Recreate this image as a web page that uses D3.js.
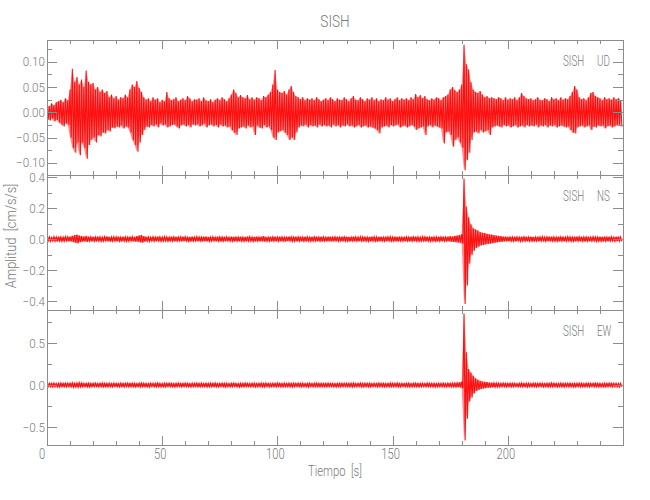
<!DOCTYPE html>
<html>
<head>
<meta charset="utf-8">
<script src="https://cdn.jsdelivr.net/npm/d3@7"></script>
<style>
  html, body { margin: 0; padding: 0; background: #fff; }
  svg text { font-family: "Roboto", "DejaVu Sans", sans-serif; font-weight: 300; fill: #7a7a7a; white-space: pre; }
</style>
</head>
<body>
<svg id="chart" width="650" height="500"></svg>
<script>
// ---------------- DATA ----------------
// Time axis: one envelope sample per second, t = 0..249 s
const title = "SISH";
const station = "SISH";
const components = ["UD", "NS", "EW"];
const xLabel = "Tiempo  [s]";
const yLabel = "Amplitud  [cm/s/s]";
const xTicks = [0, 50, 100, 150, 200];
const udTicks = [-0.10, -0.05, 0.00, 0.05, 0.10];
const nsTicks = [-0.4, -0.2, 0.0, 0.2, 0.4];
const ewTicks = [-0.5, 0.0, 0.5];

// Envelope of each trace, per second: upper peak and lower peak (units: 0.001 cm/s/s)
const udHi = [
 15,12,18,14,20,22,25,20,28,24,
 45,86,60,70,55,65,50,83,60,55,
 58,45,50,40,45,38,42,30,35,28,
 32,25,30,28,35,30,45,55,50,62,
 48,40,30,25,28,22,30,25,28,20,
 25,22,40,28,24,26,30,22,25,28,
 24,32,28,22,26,25,28,22,30,24,
 22,26,20,25,28,24,30,26,22,28,
 35,45,38,30,34,30,28,34,26,30,
 25,30,28,24,32,30,35,40,55,84,
 45,40,38,42,35,45,52,40,32,30,
 26,30,24,28,25,28,24,30,26,22,
 25,28,24,30,26,22,28,25,24,30,
 26,22,28,32,25,24,30,26,22,28,
 25,30,24,28,22,26,24,30,25,28,
 22,26,30,24,28,25,28,24,30,26,
 36,30,34,28,32,26,24,28,25,30,
 28,24,30,32,35,45,50,44,40,45,
 55,134,95,85,60,45,40,38,42,35,
 30,32,28,30,28,26,30,28,24,30,
 25,28,26,30,24,30,38,32,28,26,
 28,24,26,30,25,24,28,26,22,30,
 26,28,24,30,25,28,26,32,40,52,
 45,30,26,28,24,30,38,40,32,30,
 28,24,30,26,28,25,30,26,28,24];
const udLo = [
 -14,-16,-12,-18,-15,-20,-24,-28,-22,-25,
 -50,-70,-80,-60,-85,-60,-70,-92,-65,-55,
 -50,-60,-45,-48,-40,-42,-35,-38,-30,-32,
 -28,-30,-26,-32,-28,-30,-40,-55,-65,-78,
 -60,-45,-35,-28,-30,-25,-28,-24,-30,-22,
 -26,-24,-30,-28,-25,-24,-28,-32,-26,-24,
 -28,-25,-30,-24,-26,-24,-28,-26,-22,-30,
 -26,-24,-28,-25,-30,-24,-28,-26,-30,-28,
 -35,-40,-45,-32,-30,-28,-32,-26,-30,-28,
 -45,-26,-30,-32,-25,-30,-28,-35,-50,-55,
 -40,-38,-35,-40,-45,-55,-50,-55,-40,-30,
 -26,-28,-24,-30,-25,-28,-26,-30,-24,-28,
 -25,-28,-26,-30,-24,-28,-25,-30,-26,-28,
 -24,-28,-26,-30,-28,-25,-30,-28,-26,-30,
 -28,-30,-32,-35,-42,-30,-28,-26,-30,-25,
 -28,-26,-24,-30,-28,-26,-30,-28,-25,-28,
 -35,-32,-30,-28,-45,-28,-25,-30,-26,-28,
 -30,-32,-62,-40,-38,-45,-68,-55,-50,-60,
 -70,-115,-95,-80,-55,-40,-38,-42,-35,-40,
 -38,-35,-45,-30,-28,-26,-28,-30,-25,-28,
 -26,-30,-28,-25,-30,-28,-26,-30,-25,-28,
 -26,-28,-24,-30,-26,-28,-25,-30,-26,-28,
 -25,-30,-28,-26,-28,-30,-28,-35,-40,-42,
 -30,-28,-26,-30,-28,-26,-35,-28,-30,-26,
 -28,-26,-32,-28,-26,-30,-28,-26,-24,-28];

const nsHi = [
 12,14,10,15,13,16,14,12,15,14,
 16,20,25,28,22,18,16,20,15,14,
 15,13,16,14,12,15,17,14,13,15,
 14,16,12,15,14,13,16,15,14,18,
 22,26,18,15,14,12,15,13,16,14,
 13,15,14,12,16,14,15,13,14,16,
 15,12,14,16,13,15,14,12,15,16,
 14,13,15,12,16,14,13,15,14,12,
 15,14,16,13,15,12,14,16,15,13,
 14,16,13,15,18,14,12,15,14,16,
 13,15,14,12,15,16,14,13,15,14,
 16,13,15,14,12,15,14,16,13,15,
 14,12,16,15,13,14,15,12,16,14,
 15,14,12,16,14,13,15,14,16,12,
 14,16,15,13,14,15,12,16,14,15,
 13,15,14,16,12,15,14,13,15,14,
 16,14,13,15,14,16,12,15,14,13,
 15,14,16,13,15,18,16,20,22,25,
 30,390,210,140,95,70,62,55,45,40,
 38,34,30,28,26,22,20,18,16,15,
 14,16,13,15,14,12,15,14,16,13,
 15,14,12,16,14,15,13,14,16,15,
 14,13,15,14,16,12,15,14,13,15,
 16,14,15,13,14,16,12,15,14,13,
 15,14,16,13,15,14,12,15,16,14];
const nsLo = [
 -13,-15,-12,-14,-16,-13,-15,-14,-12,-15,
 -15,-18,-24,-28,-20,-17,-15,-18,-14,-15,
 -14,-16,-13,-15,-14,-12,-15,-16,-14,-13,
 -15,-14,-16,-13,-15,-14,-12,-15,-16,-17,
 -20,-24,-17,-14,-15,-13,-14,-15,-12,-15,
 -14,-12,-15,-16,-13,-15,-14,-12,-15,-14,
 -13,-15,-16,-14,-12,-15,-13,-16,-14,-15,
 -15,-14,-12,-15,-13,-16,-14,-15,-12,-14,
 -14,-16,-13,-15,-14,-15,-16,-13,-14,-15,
 -16,-13,-15,-14,-17,-15,-14,-16,-13,-15,
 -14,-15,-13,-16,-14,-12,-15,-14,-16,-13,
 -15,-14,-16,-13,-15,-14,-12,-15,-14,-16,
 -13,-15,-14,-16,-12,-15,-14,-13,-15,-14,
 -14,-16,-13,-15,-14,-15,-12,-16,-14,-15,
 -15,-13,-14,-16,-15,-13,-14,-15,-12,-14,
 -14,-15,-16,-13,-14,-15,-13,-16,-14,-15,
 -13,-15,-14,-12,-16,-14,-15,-13,-14,-16,
 -14,-15,-13,-16,-14,-17,-18,-20,-22,-24,
 -30,-420,-300,-160,-105,-75,-58,-50,-42,-38,
 -35,-32,-30,-27,-24,-22,-19,-18,-16,-15,
 -15,-13,-14,-16,-12,-15,-14,-13,-15,-14,
 -14,-16,-13,-15,-14,-12,-15,-14,-16,-13,
 -15,-14,-16,-13,-15,-14,-12,-15,-14,-16,
 -13,-15,-14,-16,-13,-15,-14,-12,-15,-14,
 -14,-16,-13,-15,-14,-12,-15,-14,-13,-15];

const ewHi = [
 18,22,20,24,19,21,25,20,23,22,
 24,26,22,25,28,24,22,20,23,21,
 20,23,19,22,24,21,20,22,19,23,
 21,19,23,20,22,24,20,23,21,19,
 22,24,20,21,19,23,22,20,24,21,
 19,22,21,23,20,19,22,24,20,21,
 23,20,19,22,21,24,20,22,19,23,
 21,22,20,24,19,21,23,20,22,19,
 20,23,22,19,21,20,24,21,19,22,
 22,19,21,23,20,24,21,19,22,20,
 24,21,20,22,19,23,20,22,21,24,
 20,22,19,21,23,20,22,24,20,21,
 19,21,23,20,22,19,21,20,23,22,
 21,20,22,24,19,21,23,20,22,20,
 22,19,21,20,23,22,20,19,21,24,
 20,22,24,19,21,20,22,23,19,21,
 23,21,20,22,19,24,21,20,22,19,
 21,20,22,19,23,21,22,24,26,30,
 40,850,390,190,150,110,80,62,50,42,
 38,34,30,28,26,24,22,21,23,20,
 21,23,20,22,19,21,24,20,22,21,
 19,22,21,20,23,21,19,22,20,24,
 22,20,19,23,21,20,22,24,19,21,
 20,22,21,19,23,20,21,22,24,20,
 21,19,22,20,23,21,20,22,19,21];
const ewLo = [
 -19,-21,-23,-20,-22,-24,-20,-21,-23,-19,
 -22,-25,-24,-26,-23,-21,-20,-22,-24,-21,
 -21,-19,-22,-20,-23,-21,-24,-20,-22,-19,
 -20,-22,-21,-24,-19,-22,-21,-20,-23,-21,
 -23,-21,-20,-22,-24,-19,-21,-23,-20,-22,
 -21,-23,-19,-20,-22,-24,-21,-19,-22,-20,
 -20,-22,-24,-21,-19,-22,-23,-20,-21,-24,
 -22,-20,-21,-23,-22,-19,-20,-24,-21,-22,
 -21,-19,-22,-24,-20,-23,-21,-19,-22,-20,
 -23,-21,-20,-22,-24,-19,-22,-21,-20,-23,
 -19,-22,-23,-20,-21,-22,-24,-20,-19,-21,
 -22,-20,-21,-24,-19,-22,-20,-21,-23,-20,
 -21,-23,-20,-19,-22,-24,-20,-22,-21,-19,
 -20,-22,-24,-21,-20,-19,-22,-23,-20,-22,
 -23,-21,-19,-22,-20,-21,-24,-20,-22,-21,
 -21,-20,-22,-23,-19,-21,-20,-24,-22,-20,
 -22,-24,-21,-19,-22,-20,-21,-22,-24,-21,
 -20,-22,-21,-23,-20,-22,-21,-24,-26,-28,
 -40,-660,-400,-200,-150,-100,-72,-58,-48,-42,
 -36,-32,-30,-27,-25,-23,-22,-21,-20,-22,
 -20,-22,-21,-19,-23,-20,-22,-21,-24,-20,
 -22,-20,-23,-21,-19,-22,-20,-24,-21,-22,
 -21,-23,-20,-22,-24,-19,-21,-20,-22,-23,
 -20,-22,-21,-23,-20,-22,-19,-21,-20,-22,
 -22,-20,-23,-21,-19,-22,-21,-20,-23,-21];

// ---------------- LAYOUT ----------------
const svg = d3.select("#chart");
const left = 47, right = 623;
const panelTops = [40, 175, 310];
const panelH = 135;
const axisColor = "#8c8c8c";
const traceColor = "#ff0000";

const x = d3.scaleLinear().domain([0, 250]).range([left, right]);

const panels = [
  { comp: components[0], hi: udHi, lo: udLo, domain: [-0.1242, 0.1432], ticks: udTicks, minor: 0.025, fmt: d3.format(".2f") },
  { comp: components[1], hi: nsHi, lo: nsLo, domain: [-0.458, 0.413], ticks: nsTicks, minor: 0.1, fmt: d3.format(".1f") },
  { comp: components[2], hi: ewHi, lo: ewLo, domain: [-0.714, 0.893], ticks: ewTicks, minor: 0.25, fmt: d3.format(".1f") }
];

const defs = svg.append("defs");
const minus = s => s.replace("-", "\u2212");

// narrow text helper (the original uses a narrow vector font)
function label(px, py, str, size, anchor, sx, rot) {
  const g = svg.append("g").attr("transform", `translate(${px},${py}) rotate(${rot || 0}) scale(${sx},1)`);
  g.append("text").attr("text-anchor", anchor).attr("font-size", size).text(str);
  return g;
}

panels.forEach((p, k) => {
  const top = panelTops[k], bottom = top + panelH;
  const y = d3.scaleLinear().domain(p.domain).range([bottom, top]);

  defs.append("clipPath").attr("id", "clip" + k)
    .append("rect").attr("x", left).attr("y", top).attr("width", right - left).attr("height", panelH);

  const t = p.hi.map((h, i) => i);
  // envelope band
  const area = d3.area()
    .x(i => x(i))
    .y0(i => y(p.lo[i] / 1000))
    .y1(i => y(p.hi[i] / 1000));
  svg.append("path")
    .attr("clip-path", `url(#clip${k})`)
    .attr("d", area(t))
    .attr("fill", traceColor)
    .attr("fill-opacity", 0.45);

  // trace: zig-zag between upper and lower peaks of each second
  const pts = [];
  p.hi.forEach((h, i) => {
    pts.push([i, h / 1000]);
    pts.push([i + 0.5, p.lo[i] / 1000]);
  });
  const line = d3.line().x(d => x(d[0])).y(d => y(d[1]));
  svg.append("path")
    .attr("clip-path", `url(#clip${k})`)
    .attr("d", line(pts))
    .attr("fill", "none")
    .attr("stroke", traceColor)
    .attr("stroke-width", 1.1)
    .attr("stroke-opacity", 0.9);

  const g = svg.append("g").attr("stroke", axisColor).attr("stroke-width", 1).attr("fill", "none");
  // frame
  g.append("rect").attr("x", left + 0.5).attr("y", top + 0.5).attr("width", right - left).attr("height", panelH);

  // x ticks (top & bottom, inward)
  d3.range(0, 250, 10).forEach(v => {
    const major = v % 50 === 0;
    const len = major ? 9 : 4;
    const xx = Math.round(x(v)) + 0.5;
    g.append("line").attr("x1", xx).attr("x2", xx).attr("y1", bottom).attr("y2", bottom - len);
    g.append("line").attr("x1", xx).attr("x2", xx).attr("y1", top).attr("y2", top + len);
  });

  // y ticks (left & right, inward)
  const yMinor = d3.range(Math.ceil(p.domain[0] / p.minor), Math.floor(p.domain[1] / p.minor) + 1).map(n => n * p.minor);
  yMinor.forEach(v => {
    const major = p.ticks.some(tk => Math.abs(tk - v) < 1e-9);
    const len = major ? 10 : 5;
    const yy = Math.round(y(v)) + 0.5;
    g.append("line").attr("x1", left).attr("x2", left + len).attr("y1", yy).attr("y2", yy);
    g.append("line").attr("x1", right).attr("x2", right - len).attr("y1", yy).attr("y2", yy);
  });

  // y tick labels
  p.ticks.forEach(d => {
    label(left - 2, y(d) + 4.5, minus(p.fmt(d)), 13, "end", 0.9);
  });

  // station / component label
  label(563, top + 26, station, 14, "start", 0.7);
  label(597, top + 26, p.comp, 14, "start", 0.7);

  // x tick labels on bottom panel
  if (k === panels.length - 1) {
    xTicks.forEach(d => {
      label(x(d) - (d === 0 ? 5 : 2), bottom + 14, String(d), 14, "middle", 0.8);
    });
  }
});

// title & axis titles
label(335, 27, title, 17, "middle", 0.8);
label(335, 476, xLabel, 14, "middle", 0.8);
label(16, 236, yLabel, 14, "middle", 0.92, -90);
</script>
</body>
</html>
